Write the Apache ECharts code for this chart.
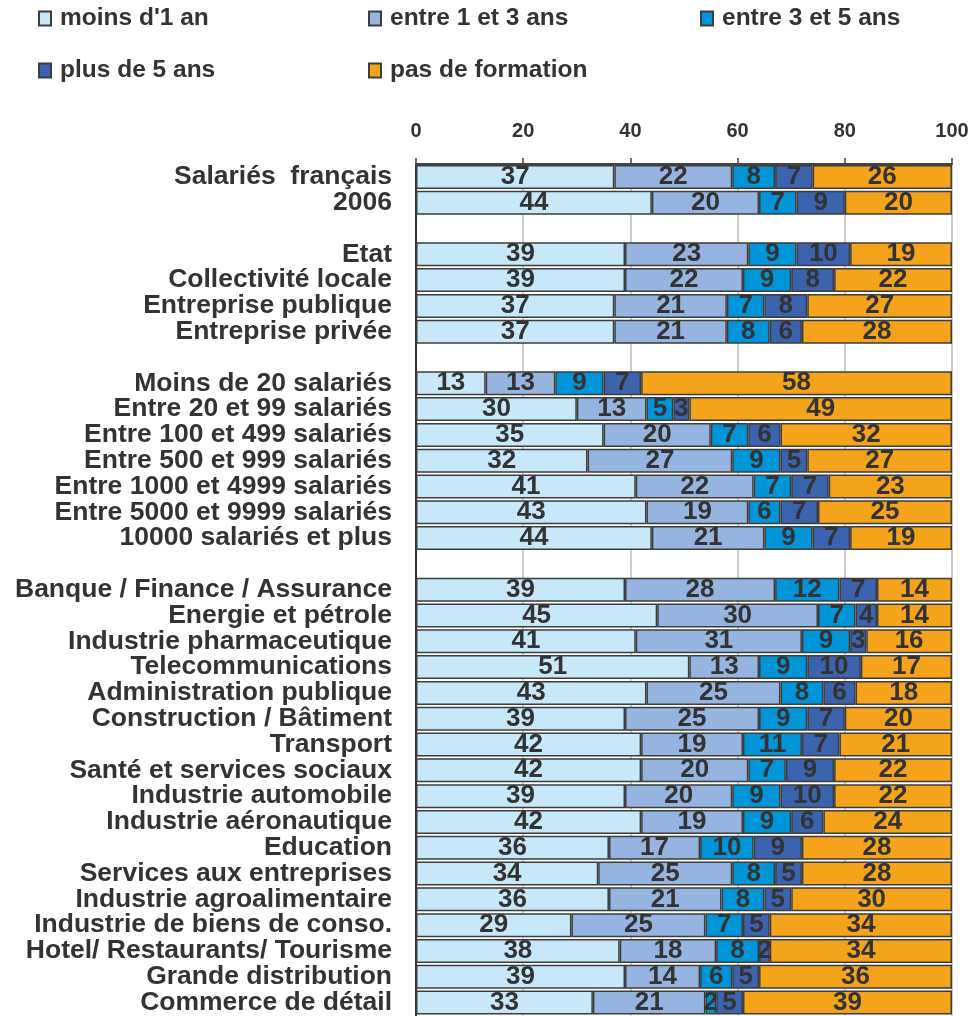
<!DOCTYPE html>
<html>
<head>
<meta charset="utf-8">
<script src="https://cdn.jsdelivr.net/npm/echarts@6/dist/echarts.min.js"></script>
<style>
  html, body { margin: 0; padding: 0; background: #fff; }
  #chart { width: 973px; height: 1016px; }
</style>
</head>
<body>
<div id="chart"></div>
<script>
  // catégories (les lignes vides servent d'espacement entre les groupes)
  var categories = [
    'Salariés  français', '2006', ' ',
    'Etat', 'Collectivité locale', 'Entreprise publique', 'Entreprise privée', '  ',
    'Moins de 20 salariés', 'Entre 20 et 99 salariés', 'Entre 100 et 499 salariés',
    'Entre 500 et 999 salariés', 'Entre 1000 et 4999 salariés', 'Entre 5000 et 9999 salariés',
    '10000 salariés et plus', '   ',
    'Banque / Finance / Assurance', 'Energie et pétrole', 'Industrie pharmaceutique',
    'Telecommunications', 'Administration publique', 'Construction / Bâtiment', 'Transport',
    'Santé et services sociaux', 'Industrie automobile', 'Industrie aéronautique', 'Education',
    'Services aux entreprises', 'Industrie agroalimentaire', 'Industrie de biens de conso.',
    'Hotel/ Restaurants/ Tourisme', 'Grande distribution', 'Commerce de détail'
  ]
  var seriesNames = ["moins d'1 an", 'entre 1 et 3 ans', 'entre 3 et 5 ans', 'plus de 5 ans', 'pas de formation']
  var moinsUnAn = [37, 44, null, 39, 39, 37, 37, null, 13, 30, 35, 32, 41, 43, 44, null,
    39, 45, 41, 51, 43, 39, 42, 42, 39, 42, 36, 34, 36, 29, 38, 39, 33]
  var entre1et3 = [22, 20, null, 23, 22, 21, 21, null, 13, 13, 20, 27, 22, 19, 21, null,
    28, 30, 31, 13, 25, 25, 19, 20, 20, 19, 17, 25, 21, 25, 18, 14, 21]
  var entre3et5 = [8, 7, null, 9, 9, 7, 8, null, 9, 5, 7, 9, 7, 6, 9, null,
    12, 7, 9, 9, 8, 9, 11, 7, 9, 9, 10, 8, 8, 7, 8, 6, 2]
  var plusDe5 = [7, 9, null, 10, 8, 8, 6, null, 7, 3, 6, 5, 7, 7, 7, null,
    7, 4, 3, 10, 6, 7, 7, 9, 10, 6, 9, 5, 5, 5, 2, 5, 5]
  var pasDeFormation = [26, 20, null, 19, 22, 27, 28, null, 58, 49, 32, 27, 23, 25, 19, null,
    14, 14, 16, 17, 18, 20, 21, 22, 22, 24, 28, 28, 30, 34, 34, 36, 39]
  var xTicks = [0, 20, 40, 60, 80, 100]

  var colors = ['#c6e8f8', '#95b4df', '#0095d8', '#3b63ae', '#f5a31b']
  var values = [moinsUnAn, entre1et3, entre3et5, plusDe5, pasDeFormation]
  var font = 'Liberation Sans, Arial, sans-serif'

  let myChart = echarts.init(document.getElementById('chart'))

  // une légende par élément pour reproduire la disposition en grille
  var legendPos = [[38, 6], [368, 6], [700, 6], [38, 58], [368, 58]]
  var legends = seriesNames.map(function (name, i) {
    return {
      data: [name],
      left: legendPos[i][0],
      top: legendPos[i][1],
      padding: 0,
      icon: 'rect',
      itemWidth: 12,
      itemHeight: 14,
      selectedMode: false,
      textStyle: {
        fontFamily: font,
        fontWeight: 'bold',
        fontSize: 24.5,
        color: '#333',
        padding: [0, 0, 0, 4]
      }
    }
  })

  var series = seriesNames.map(function (name, i) {
    return {
      name: name,
      type: 'bar',
      stack: 'total',
      barWidth: 24,
      data: values[i],
      itemStyle: {
        color: colors[i],
        borderColor: '#3d3d3d',
        borderWidth: 1.5
      },
      label: {
        show: true,
        position: 'inside',
        fontFamily: font,
        fontWeight: 'bold',
        fontSize: 26,
        color: '#333'
      }
    }
  })

  myChart.setOption({
    animation: false,
    legend: legends,
    grid: {
      left: 416,
      top: 164,
      width: 536,
      height: 854
    },
    xAxis: {
      type: 'value',
      position: 'top',
      min: xTicks[0],
      max: xTicks[xTicks.length - 1],
      interval: 20,
      axisLine: { show: true, lineStyle: { color: '#444', width: 2 } },
      axisTick: { show: true, length: 6, lineStyle: { color: '#444', width: 1.5 } },
      splitLine: { show: true, lineStyle: { color: '#c4b8b8', width: 1.5 } },
      axisLabel: {
        margin: 23,
        fontFamily: font,
        fontWeight: 'bold',
        fontSize: 20,
        color: '#333'
      }
    },
    yAxis: {
      type: 'category',
      inverse: true,
      data: categories,
      axisLine: { show: true, lineStyle: { color: '#333', width: 2 } },
      axisTick: { show: false },
      axisLabel: {
        margin: 24,
        interval: 0,
        fontFamily: font,
        fontWeight: 'bold',
        fontSize: 26.5,
        color: '#333'
      }
    },
    series: series
  })
</script>
</body>
</html>
